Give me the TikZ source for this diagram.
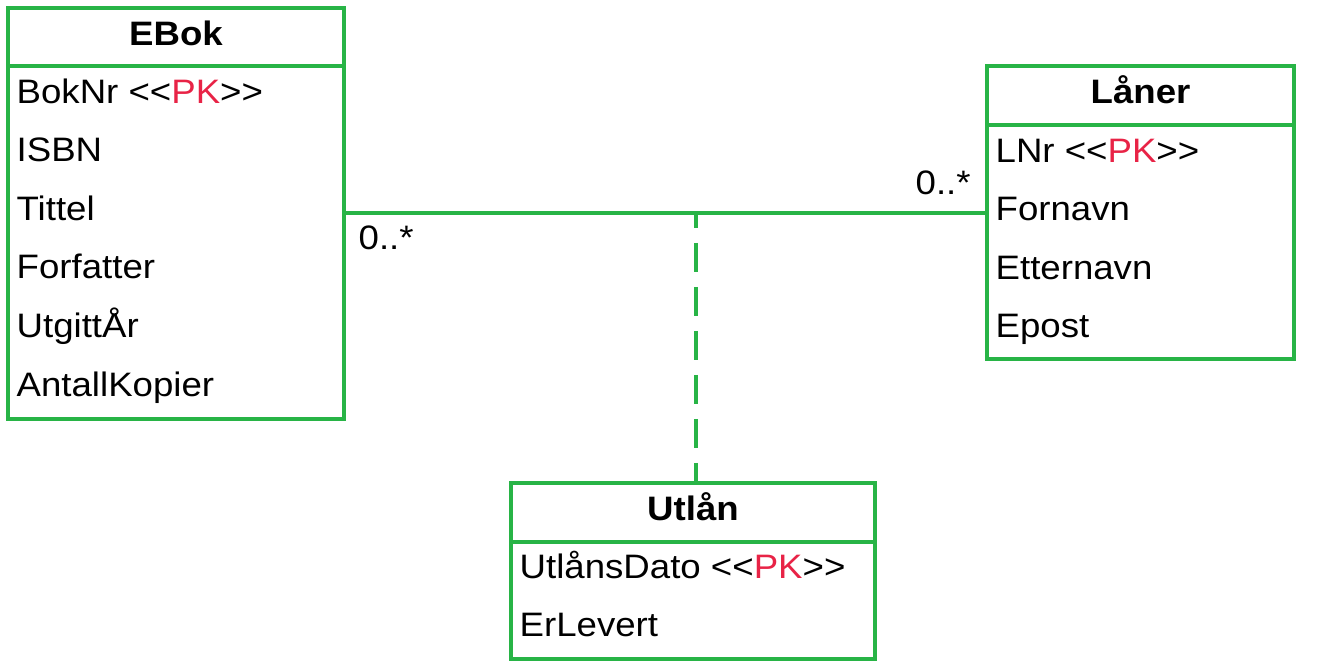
\documentclass[tikz,border=0pt]{standalone}
\usepackage{fontspec}
\setmainfont{Liberation Sans}[FakeStretch=1.08]
\usepackage{tikz}
\usetikzlibrary{positioning}
\usepackage{xcolor}
\definecolor{umlgreen}{RGB}{40,180,70}
\definecolor{pkred}{RGB}{232,35,70}
\newcommand{\umlsize}{\fontsize{19.3pt}{23pt}\selectfont}
\newcommand{\pk}{<\kern0pt<\textcolor{pkred}{PK}>\kern0pt>}

\begin{document}
\begin{tikzpicture}[x=0.02cm, y=-0.02cm, line width=1.9pt, font=\umlsize,
	head/.style={draw=umlgreen, outer sep=0pt, inner sep=0pt, font=\umlsize\bfseries, text height=0.48cm, text depth=0.16cm},
	attrs/.style={draw=umlgreen, outer sep=0pt, inner sep=0pt},
	field/.style={anchor=base west, inner sep=0pt}]
	\useasboundingbox (0,0) rectangle (1340,670);
	
	\node[head, minimum width=6.72cm, minimum height=1.16cm] (ebok) at (176,37) {EBok};
	\node[attrs, minimum width=6.72cm, minimum height=7.06cm, below=0pt of ebok] (ebokb) {};
	\node[head, minimum width=6.14cm, minimum height=1.18cm] (laner) at (1140.5,95.5) {Låner};
	\node[attrs, minimum width=6.14cm, minimum height=4.68cm, below=0pt of laner] (lanerb) {};
	\node[head, minimum width=7.28cm, minimum height=1.18cm] (utlan) at (693,512.5) {Utlån};
	\node[attrs, minimum width=7.28cm, minimum height=2.34cm, below=0pt of utlan] (utlanb) {};
	
	\node[field] (e1) at (15,103) {BokNr \pk};
	\node[field] (e2) at (15,161.6) {ISBN};
	\node[field] (e3) at (15,220.2) {Tittel};
	\node[field] (e4) at (15,278.8) {Forfatter};
	\node[field] (e5) at (15,337.4) {UtgittÅr};
	\node[field] (e6) at (15,396) {AntallKopier};
	
	\node[field] (l1) at (994,162) {LNr \pk};
	\node[field] (l2) at (994,220.6) {Fornavn};
	\node[field] (l3) at (994,279.2) {Etternavn};
	\node[field] (l4) at (994,337.8) {Epost};
	
	\node[field] (u1) at (518,578) {UtlånsDato \pk};
	\node[field] (u2) at (518,636.6) {ErLevert};
	
	\coordinate (mid) at (696,213);
	\draw[umlgreen] (mid -| ebokb.east) -- (mid -| lanerb.west);
	\draw[umlgreen, dash pattern=on 0.58cm off 0.30cm, dash phase=0.28cm] (mid) -- (mid |- utlan.north);
	
	\node[field] (m1) at (357,249) {0..*};
	\node[field] (m2) at (914,194) {0..*};
	
\end{tikzpicture}
\end{document}
